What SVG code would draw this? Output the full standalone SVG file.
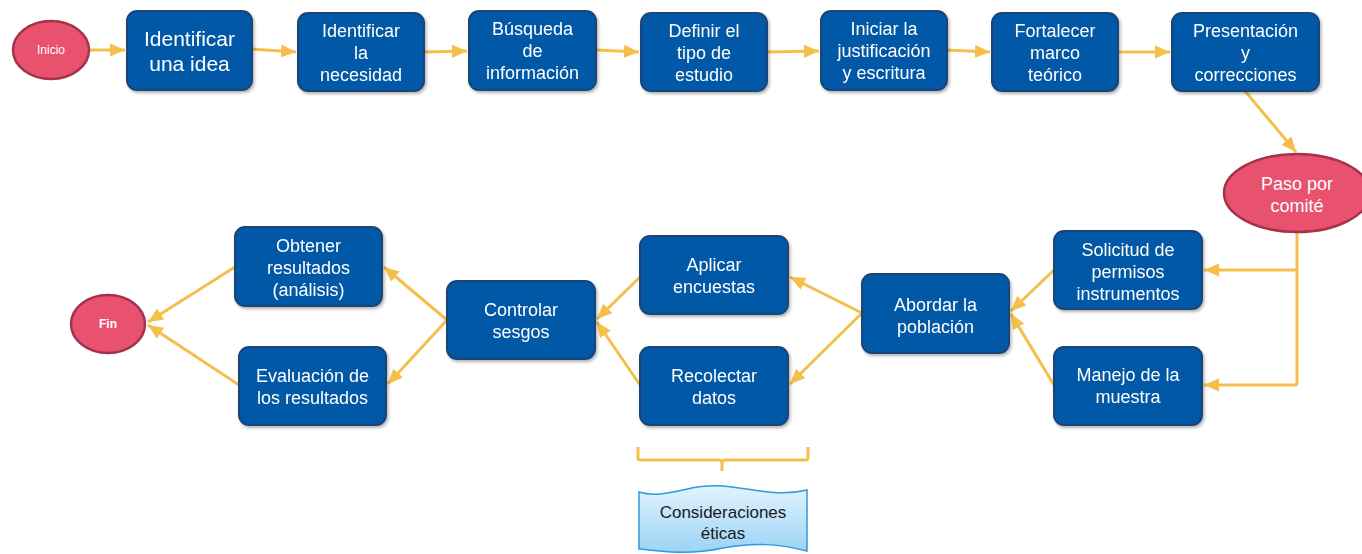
<svg xmlns="http://www.w3.org/2000/svg" width="1362" height="554" viewBox="0 0 1362 554">
<style>
.box{fill:#0058a6;stroke:#1b4577;stroke-width:2}
.ell{fill:#e8526f;stroke:#a5324b;stroke-width:2.5}
.t{font-family:"Liberation Sans",Arial,sans-serif;font-size:18px;fill:#ffffff;text-anchor:middle}
.big{font-size:21px}
.small{font-size:12px}
.con{fill:none;stroke:#f6bf4b;stroke-width:3;marker-end:url(#ah)}
.plain{fill:none;stroke:#f6bf4b;stroke-width:3}
</style>
<defs>
<marker id="ah" markerWidth="6" markerHeight="6" refX="5" refY="3" orient="auto" markerUnits="strokeWidth"><path d="M0,0.8 L5,3 L0,5.2 Z" fill="#f6bf4b"/></marker>
<linearGradient id="wg" x1="0" y1="0" x2="0" y2="1"><stop offset="0" stop-color="#e2f4fe"/><stop offset="1" stop-color="#9cd3f6"/></linearGradient>
<filter id="sh" x="-10%" y="-10%" width="130%" height="130%"><feDropShadow dx="1.5" dy="2" stdDeviation="1.5" flood-color="#000" flood-opacity="0.3"/></filter>
</defs>
<g id="connectors">
<path class="con" d="M89,50 L125,50"/>
<path class="con" d="M252,49 L296,52"/>
<path class="con" d="M424,52 L467,51"/>
<path class="con" d="M596,50 L639,52"/>
<path class="con" d="M767,52 L819,51"/>
<path class="con" d="M947,50 L990,52"/>
<path class="con" d="M1118,52 L1170,52"/>
<path class="con" d="M1245,91 L1296,152"/>
<path class="plain" d="M1297,232 L1297,385"/>
<path class="con" d="M1297,270 L1204,270"/>
<path class="con" d="M1297,385 L1204,385"/>
<path class="con" d="M1054,270 L1011,311"/>
<path class="con" d="M1054,385 L1011,314"/>
<path class="con" d="M862,313 L790,277"/>
<path class="con" d="M862,313 L790,384"/>
<path class="con" d="M640,277 L597,319"/>
<path class="con" d="M640,385 L597,322"/>
<path class="con" d="M447,320 L384,267"/>
<path class="con" d="M447,320 L388,384"/>
<path class="con" d="M235,267 L148,322"/>
<path class="con" d="M239,385 L148,325"/>
<path class="plain" d="M638,447 L638,458 Q638,460 641,460 L719,460 Q722,460 722,464 L722,471 M722,464 Q722,460 725,460 L805,460 Q808,460 808,458 L808,447"/>
</g>
<g id="inicio"><ellipse class="ell" cx="51" cy="50" rx="38" ry="29"/><text class="t small" x="51" y="54">Inicio</text></g>
<g id="n1" filter="url(#sh)"><rect class="box" x="127" y="11" width="125" height="79" rx="10"/><text class="t big" x="189.5" y="46">Identificar</text><text class="t big" x="189.5" y="71">una idea</text></g>
<g id="n2" filter="url(#sh)"><rect class="box" x="298" y="13" width="126" height="78" rx="10"/><text class="t" x="361" y="37">Identificar</text><text class="t" x="361" y="59">la</text><text class="t" x="361" y="81">necesidad</text></g>
<g id="n3" filter="url(#sh)"><rect class="box" x="469" y="11" width="127" height="79" rx="10"/><text class="t" x="532.5" y="35">Búsqueda</text><text class="t" x="532.5" y="57">de</text><text class="t" x="532.5" y="79">información</text></g>
<g id="n4" filter="url(#sh)"><rect class="box" x="641" y="13" width="126" height="78" rx="10"/><text class="t" x="704" y="37">Definir el</text><text class="t" x="704" y="59">tipo de</text><text class="t" x="704" y="81">estudio</text></g>
<g id="n5" filter="url(#sh)"><rect class="box" x="821" y="11" width="126" height="79" rx="10"/><text class="t" x="884" y="35">Iniciar la</text><text class="t" x="884" y="57">justificación</text><text class="t" x="884" y="79">y escritura</text></g>
<g id="n6" filter="url(#sh)"><rect class="box" x="992" y="13" width="126" height="78" rx="10"/><text class="t" x="1055" y="37">Fortalecer</text><text class="t" x="1055" y="59">marco</text><text class="t" x="1055" y="81">teórico</text></g>
<g id="n7" filter="url(#sh)"><rect class="box" x="1172" y="13" width="147" height="78" rx="10"/><text class="t" x="1245.5" y="37">Presentación</text><text class="t" x="1245.5" y="59">y</text><text class="t" x="1245.5" y="81">correcciones</text></g>
<g id="paso"><ellipse class="ell" cx="1297" cy="193" rx="73" ry="39"/><text class="t" x="1297" y="190">Paso por</text><text class="t" x="1297" y="212">comité</text></g>
<g id="solicitud" filter="url(#sh)"><rect class="box" x="1054" y="231" width="148" height="78" rx="10"/><text class="t" x="1128" y="256">Solicitud de</text><text class="t" x="1128" y="278">permisos</text><text class="t" x="1128" y="300">instrumentos</text></g>
<g id="manejo" filter="url(#sh)"><rect class="box" x="1054" y="347" width="148" height="78" rx="10"/><text class="t" x="1128" y="381">Manejo de la</text><text class="t" x="1128" y="403">muestra</text></g>
<g id="abordar" filter="url(#sh)"><rect class="box" x="862" y="274" width="147" height="79" rx="10"/><text class="t" x="935.5" y="311">Abordar la</text><text class="t" x="935.5" y="333">población</text></g>
<g id="aplicar" filter="url(#sh)"><rect class="box" x="640" y="236" width="148" height="78" rx="10"/><text class="t" x="714" y="271">Aplicar</text><text class="t" x="714" y="293">encuestas</text></g>
<g id="recolectar" filter="url(#sh)"><rect class="box" x="640" y="347" width="148" height="78" rx="10"/><text class="t" x="714" y="382">Recolectar</text><text class="t" x="714" y="404">datos</text></g>
<g id="controlar" filter="url(#sh)"><rect class="box" x="447" y="281" width="148" height="78" rx="10"/><text class="t" x="521" y="316">Controlar</text><text class="t" x="521" y="338">sesgos</text></g>
<g id="obtener" filter="url(#sh)"><rect class="box" x="235" y="227" width="147" height="79" rx="10"/><text class="t" x="308.5" y="252">Obtener</text><text class="t" x="308.5" y="274">resultados</text><text class="t" x="308.5" y="296">(análisis)</text></g>
<g id="evaluacion" filter="url(#sh)"><rect class="box" x="239" y="347" width="147" height="78" rx="10"/><text class="t" x="312.5" y="382">Evaluación de</text><text class="t" x="312.5" y="404">los resultados</text></g>
<g id="fin"><ellipse class="ell" cx="108" cy="324" rx="37" ry="29"/><text class="t small" x="108" y="328" font-weight="bold">Fin</text></g>
<g id="consideraciones"><path d="M639,492 C665,500 690,483 723,486 C755,489 778,497 807,490 L807,551 C780,544 755,542 723,548 C690,555 665,552 639,549 Z" fill="url(#wg)" stroke="#2f9ad8" stroke-width="1.5"/><text class="t" x="723" y="518" style="fill:#1a1a1a;font-size:17px">Consideraciones</text><text class="t" x="723" y="539" style="fill:#1a1a1a;font-size:17px">éticas</text></g>
</svg>
